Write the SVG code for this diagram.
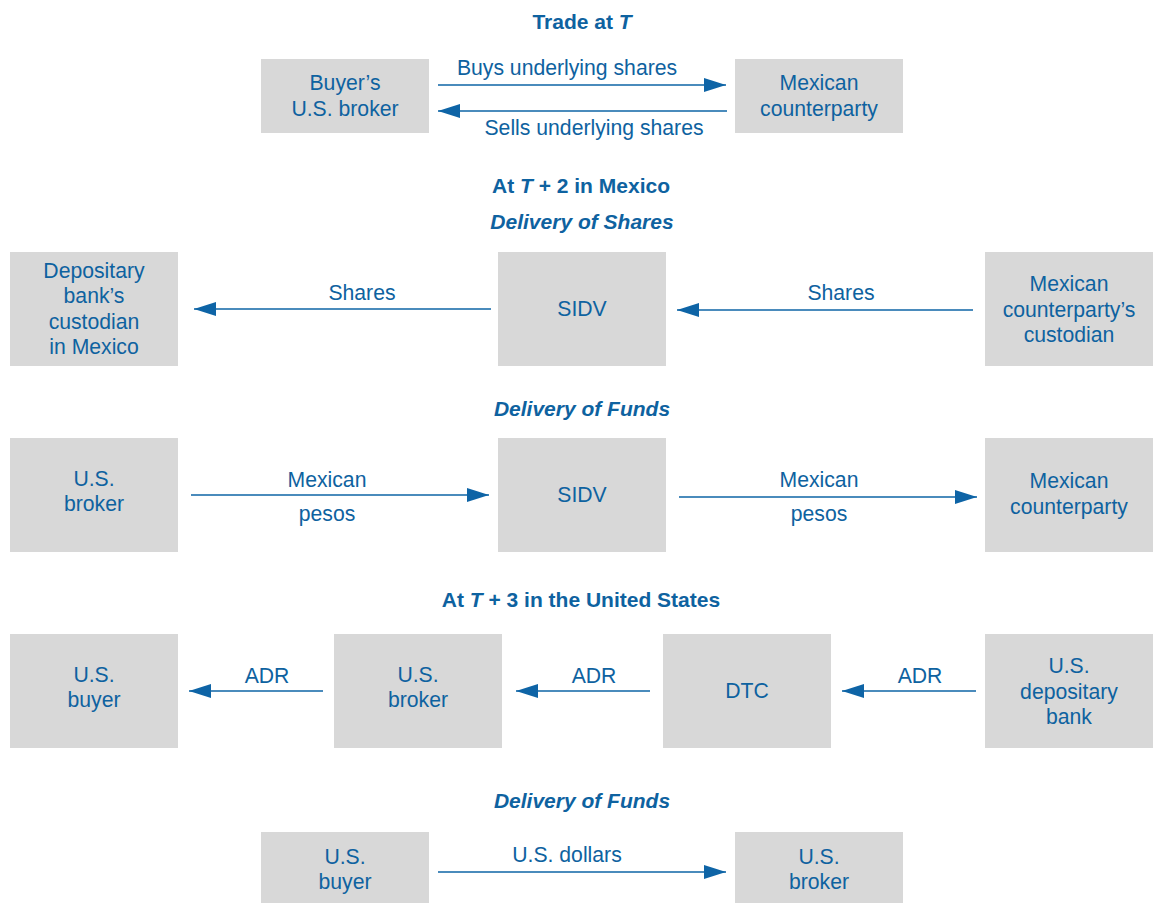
<svg xmlns="http://www.w3.org/2000/svg" width="1158" height="903" viewBox="0 0 1158 903">
<style>
.box{fill:#d8d8d8}
.t{font-family:"Liberation Sans",Arial,sans-serif;font-size:21.2px;fill:#0e62a0;text-anchor:middle}
.h{font-family:"Liberation Sans",Arial,sans-serif;font-size:21px;font-weight:bold;fill:#0e62a0;text-anchor:middle}
.i{font-style:italic}
.c{stroke:#0e64a6;stroke-width:1.6;fill:none;marker-end:url(#ah)}
</style>
<defs>
<marker id="ah" markerUnits="userSpaceOnUse" markerWidth="24" markerHeight="16" refX="22" refY="7" orient="auto">
<path d="M0,0 L22,7 L0,14 Z" fill="#0e64a6"/>
</marker>
</defs>
<rect width="1158" height="903" fill="#ffffff"/>
<g id="headings">
<text class="h" x="582" y="29">Trade at <tspan class="i">T</tspan></text>
<text class="h" x="581" y="193">At <tspan class="i">T</tspan> + 2 in Mexico</text>
<text class="h i" x="582" y="229">Delivery of Shares</text>
<text class="h i" x="582" y="416">Delivery of Funds</text>
<text class="h" x="581" y="607">At <tspan class="i">T</tspan> + 3 in the United States</text>
<text class="h i" x="582" y="808">Delivery of Funds</text>
</g>
<g id="connectors">
<line class="c" x1="438" y1="85" x2="726" y2="85"/>
<line class="c" x1="727" y1="111" x2="438" y2="111"/>
<line class="c" x1="491" y1="309" x2="194" y2="309"/>
<line class="c" x1="973" y1="310" x2="677" y2="310"/>
<line class="c" x1="191" y1="495" x2="489" y2="495"/>
<line class="c" x1="679" y1="497" x2="977" y2="497"/>
<line class="c" x1="323" y1="691" x2="189" y2="691"/>
<line class="c" x1="650" y1="691" x2="516" y2="691"/>
<line class="c" x1="976" y1="691" x2="842" y2="691"/>
<line class="c" x1="438" y1="872" x2="726" y2="872"/>
</g>
<g id="connector-labels">
<text class="t" x="567" y="75">Buys underlying shares</text>
<text class="t" x="594" y="135">Sells underlying shares</text>
<text class="t" x="362" y="300">Shares</text>
<text class="t" x="841" y="300">Shares</text>
<text class="t" x="327" y="487">Mexican</text>
<text class="t" x="327" y="521">pesos</text>
<text class="t" x="819" y="487">Mexican</text>
<text class="t" x="819" y="521">pesos</text>
<text class="t" x="267" y="683">ADR</text>
<text class="t" x="594" y="683">ADR</text>
<text class="t" x="920" y="683">ADR</text>
<text class="t" x="567" y="862">U.S. dollars</text>
</g>
<g id="buyers-broker"><rect class="box" x="261" y="59" width="168" height="74"/><text class="t" x="345" y="90">Buyer’s</text><text class="t" x="345" y="116">U.S. broker</text></g>
<g id="mexican-counterparty-1"><rect class="box" x="735" y="59" width="168" height="74"/><text class="t" x="819" y="90">Mexican</text><text class="t" x="819" y="116">counterparty</text></g>
<g id="depositary-custodian"><rect class="box" x="10" y="252" width="168" height="114"/><text class="t" x="94" y="278">Depositary</text><text class="t" x="94" y="303">bank’s</text><text class="t" x="94" y="329">custodian</text><text class="t" x="94" y="354">in Mexico</text></g>
<g id="sidv-1"><rect class="box" x="498" y="252" width="168" height="114"/><text class="t" x="582" y="316">SIDV</text></g>
<g id="mexican-custodian"><rect class="box" x="985" y="252" width="168" height="114"/><text class="t" x="1069" y="291">Mexican</text><text class="t" x="1069" y="317">counterparty’s</text><text class="t" x="1069" y="342">custodian</text></g>
<g id="us-broker-1"><rect class="box" x="10" y="438" width="168" height="114"/><text class="t" x="94" y="486">U.S.</text><text class="t" x="94" y="511">broker</text></g>
<g id="sidv-2"><rect class="box" x="498" y="438" width="168" height="114"/><text class="t" x="582" y="502">SIDV</text></g>
<g id="mexican-counterparty-2"><rect class="box" x="985" y="438" width="168" height="114"/><text class="t" x="1069" y="488">Mexican</text><text class="t" x="1069" y="514">counterparty</text></g>
<g id="us-buyer-1"><rect class="box" x="10" y="634" width="168" height="114"/><text class="t" x="94" y="682">U.S.</text><text class="t" x="94" y="707">buyer</text></g>
<g id="us-broker-2"><rect class="box" x="334" y="634" width="168" height="114"/><text class="t" x="418" y="682">U.S.</text><text class="t" x="418" y="707">broker</text></g>
<g id="dtc"><rect class="box" x="663" y="634" width="168" height="114"/><text class="t" x="747" y="698">DTC</text></g>
<g id="us-depositary-bank"><rect class="box" x="985" y="634" width="168" height="114"/><text class="t" x="1069" y="673">U.S.</text><text class="t" x="1069" y="699">depositary</text><text class="t" x="1069" y="724">bank</text></g>
<g id="us-buyer-2"><rect class="box" x="261" y="832" width="168" height="71"/><text class="t" x="345" y="864">U.S.</text><text class="t" x="345" y="889">buyer</text></g>
<g id="us-broker-3"><rect class="box" x="735" y="832" width="168" height="71"/><text class="t" x="819" y="864">U.S.</text><text class="t" x="819" y="889">broker</text></g>
</svg>
